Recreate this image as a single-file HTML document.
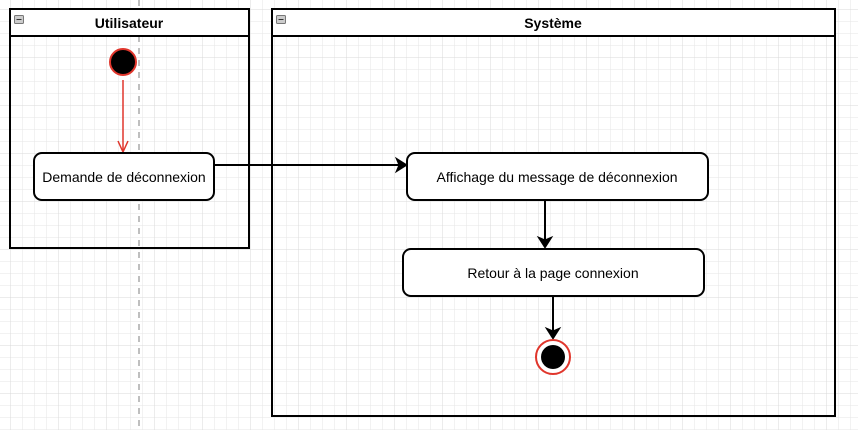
<!DOCTYPE html>
<html><head><meta charset="utf-8"><style>
html,body{margin:0;padding:0;background:#fff;}
svg{display:block;font-family:"Liberation Sans",Arial,sans-serif;}
</style></head><body>
<svg width="858" height="430" viewBox="0 0 858 430" xmlns="http://www.w3.org/2000/svg">
<defs>
<pattern id="g" x="10" y="9" width="12" height="12" patternUnits="userSpaceOnUse">
<path d="M12 0H0V12" fill="none" stroke="#e6e6e6" stroke-width="1"/>
</pattern>
<pattern id="G" x="10" y="9" width="48" height="48" patternUnits="userSpaceOnUse">
<path d="M48 0H0V48" fill="none" stroke="#d9d9d9" stroke-width="1"/>
</pattern>
</defs>
<rect width="858" height="430" fill="url(#g)"/>
<rect width="858" height="430" fill="url(#G)"/>
<line x1="139" y1="0" x2="139" y2="430" stroke="#aaa" stroke-width="1.5" stroke-dasharray="6,6"/>
<!-- Utilisateur pool -->
<rect x="10" y="9" width="239" height="239" fill="none" stroke="#000" stroke-width="2"/>
<rect x="10" y="9" width="239" height="27" fill="#fff" stroke="#000" stroke-width="2"/>
<rect x="14.5" y="15.5" width="9" height="8" rx="1" fill="#ccc" stroke="#777" stroke-width="1"/>
<line x1="16.5" y1="19.5" x2="21.5" y2="19.5" stroke="#333"/>
<text x="129" y="28" text-anchor="middle" font-size="14" font-weight="bold">Utilisateur</text>
<!-- Systeme pool -->
<rect x="272" y="9" width="563" height="407" fill="none" stroke="#000" stroke-width="2"/>
<rect x="272" y="9" width="563" height="27" fill="#fff" stroke="#000" stroke-width="2"/>
<rect x="276.5" y="15.5" width="9" height="8" rx="1" fill="#ccc" stroke="#777" stroke-width="1"/>
<line x1="278.5" y1="19.5" x2="283.5" y2="19.5" stroke="#333"/>
<text x="553" y="28" text-anchor="middle" font-size="14" font-weight="bold">Système</text>
<!-- start -->
<circle cx="123" cy="62" r="13" fill="#000" stroke="#e0362c" stroke-width="2"/>
<line x1="123" y1="80" x2="123" y2="151" stroke="#e0362c" stroke-width="1.5"/>
<path d="M118 141 L123 152 L128 141" fill="none" stroke="#e0362c" stroke-width="1.5"/>
<!-- boxes -->
<rect x="34" y="153" width="180" height="47" rx="8" fill="#fff" stroke="#000" stroke-width="2"/>
<text x="124" y="182" text-anchor="middle" font-size="14">Demande de déconnexion</text>
<line x1="214" y1="165" x2="400" y2="165" stroke="#000" stroke-width="2"/>
<path d="M396 158 L407 165 L396 172 L399 165 Z" fill="#000" stroke="#000" stroke-width="1"/>
<rect x="407" y="153" width="301" height="47" rx="8" fill="#fff" stroke="#000" stroke-width="2"/>
<text x="557" y="182" text-anchor="middle" font-size="14">Affichage du message de déconnexion</text>
<line x1="545" y1="200" x2="545" y2="242" stroke="#000" stroke-width="2"/>
<path d="M538 237 L545 248 L552 237 L545 240 Z" fill="#000" stroke="#000" stroke-width="1"/>
<rect x="403" y="249" width="301" height="47" rx="8" fill="#fff" stroke="#000" stroke-width="2"/>
<text x="553" y="278" text-anchor="middle" font-size="14">Retour à la page connexion</text>
<line x1="553" y1="296" x2="553" y2="334" stroke="#000" stroke-width="2"/>
<path d="M546 328 L553 339 L560 328 L553 331 Z" fill="#000" stroke="#000" stroke-width="1"/>
<circle cx="553" cy="357" r="17" fill="#fff" stroke="#e0362c" stroke-width="2"/>
<circle cx="553" cy="357" r="12" fill="#000"/>
</svg>
</body></html>
